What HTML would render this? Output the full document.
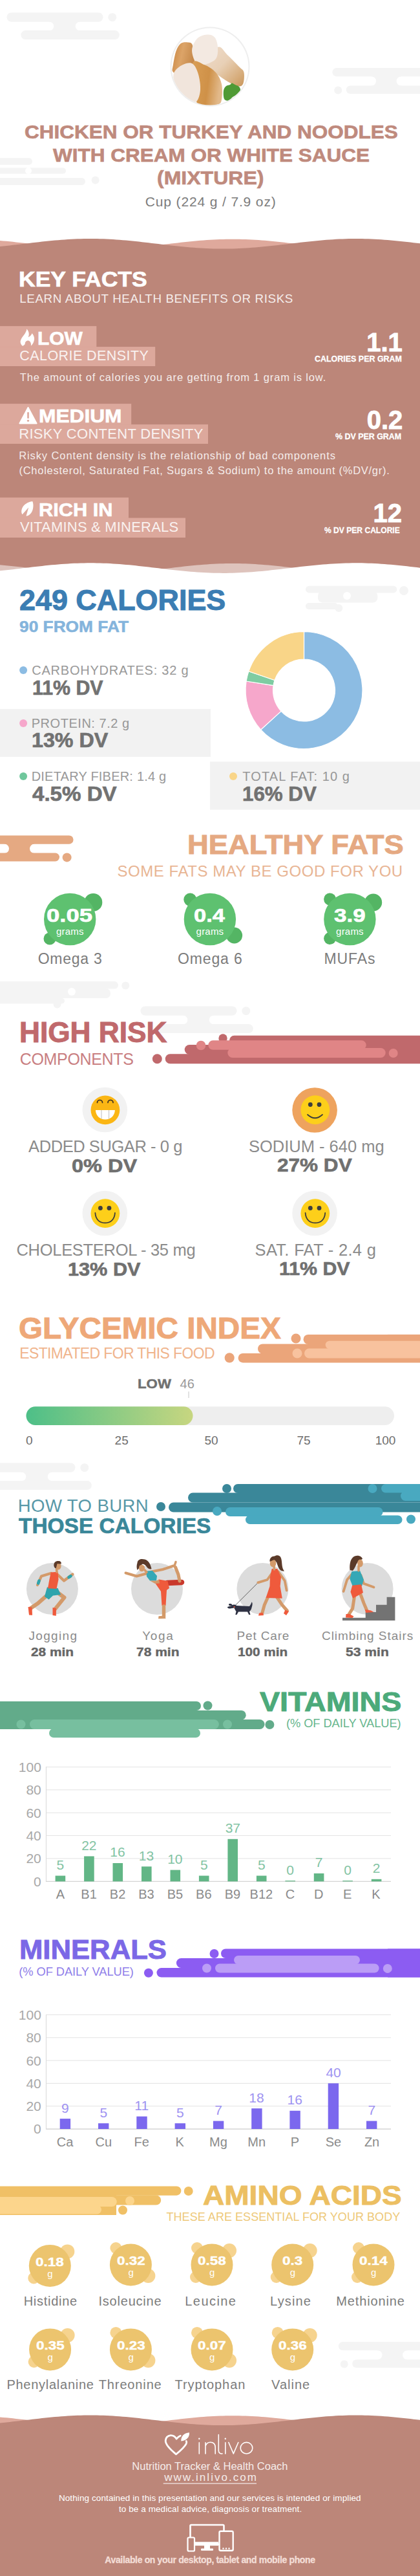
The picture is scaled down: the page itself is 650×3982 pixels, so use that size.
<!DOCTYPE html>
<html><head><meta charset="utf-8"><style>
html,body{margin:0;padding:0;background:#fff;}
#pg{position:relative;width:650px;height:3982px;overflow:hidden;background:#fff;font-family:"Liberation Sans",sans-serif;}
.t{position:absolute;white-space:nowrap;}
svg.bg{position:absolute;left:0;top:0;}
</style></head><body><div id="pg">
<svg class="bg" width="650" height="3982" viewBox="0 0 650 3982" xmlns="http://www.w3.org/2000/svg">
<rect x="76.0" y="26.0" width="48.0" height="28.0" rx="0" fill="#f4f4f4" />
<rect x="-40.0" y="33.8" width="123.3" height="13.3" rx="6.65" fill="#fff" />
<rect x="116.7" y="33.8" width="120.0" height="13.3" rx="6.65" fill="#fff" />
<rect x="10.5" y="19.5" width="149.0" height="14.3" rx="7.1" fill="#f4f4f4" />
<circle cx="173.8" cy="26.7" r="6.5" fill="#f4f4f4" />
<rect x="32.4" y="47.1" width="152.4" height="14.0" rx="7" fill="#f4f4f4" />
<rect x="575.0" y="112.0" width="46.0" height="26.0" rx="0" fill="#f4f4f4" />
<rect x="500.0" y="118.2" width="82.0" height="14.3" rx="7.1" fill="#fff" />
<rect x="613.6" y="118.2" width="100.0" height="14.3" rx="7.1" fill="#fff" />
<rect x="514.3" y="105.0" width="200.0" height="13.2" rx="6.6" fill="#f4f4f4" />
<rect x="535.7" y="132.5" width="200.0" height="12.5" rx="6.25" fill="#f4f4f4" />
<circle cx="523.2" cy="139.6" r="6.0" fill="#f4f4f4" />
<rect x="-20.0" y="244.3" width="70.0" height="10.5" rx="5.2" fill="#f4f4f4" />
<rect x="-20.0" y="259.5" width="122.0" height="9.0" rx="4.5" fill="#f4f4f4" />
<circle cx="44.0" cy="264.0" r="5.0" fill="#fff" />
<rect x="-20.0" y="275.0" width="152.0" height="11.0" rx="5.5" fill="#f4f4f4" />
<circle cx="147.6" cy="278.6" r="6.0" fill="#f4f4f4" />
<defs><clipPath id="chk"><circle cx="325" cy="103" r="59.5"/></clipPath>
<linearGradient id="gk1" x1="0" y1="0" x2="1" y2="0.3"><stop offset="0" stop-color="#c9853f"/><stop offset="0.5" stop-color="#dca468"/><stop offset="1" stop-color="#c68a4c"/></linearGradient>
<linearGradient id="gk2" x1="0" y1="0" x2="1" y2="1"><stop offset="0" stop-color="#efdccb"/><stop offset="0.45" stop-color="#e8d0b6"/><stop offset="0.8" stop-color="#d7ad7c"/><stop offset="1" stop-color="#c9965c"/></linearGradient>
<linearGradient id="gk3" x1="0" y1="0" x2="1" y2="0.2"><stop offset="0" stop-color="#d99e55"/><stop offset="0.6" stop-color="#cf9148"/><stop offset="1" stop-color="#e2b98a"/></linearGradient>
</defs>
<circle cx="325.0" cy="103.0" r="61.5" fill="#eeeeee" />
<circle cx="325.0" cy="103.0" r="59.5" fill="#ffffff" />
<g clip-path="url(#chk)">
<path d="M268.0,100.0 C268.9,94.8 270.5,84.5 272.5,79.0 C274.5,73.5 277.0,69.2 280.0,67.0 C283.0,64.8 287.5,65.0 290.5,65.5 C293.5,66.0 296.2,64.8 298.0,70.0 C299.8,75.2 302.0,92.0 301.0,97.0 C300.0,102.0 296.5,97.5 292.0,100.0 C287.5,102.5 278.2,110.3 274.0,112.0 C269.8,113.7 268.0,112.0 267.0,110.0 C266.0,108.0 267.1,105.2 268.0,100.0 Z" fill="url(#gk1)" />
<path d="M316.0,100.0 C317.5,94.0 331.0,75.5 337.0,73.0 C343.0,70.5 346.5,80.0 352.0,85.0 C357.5,90.0 365.8,98.5 370.0,103.0 C374.2,107.5 376.5,107.5 377.5,112.0 C378.5,116.5 377.8,126.5 376.0,130.0 C374.2,133.5 371.5,134.0 367.0,133.0 C362.5,132.0 355.5,128.0 349.0,124.0 C342.5,120.0 333.5,113.0 328.0,109.0 C322.5,105.0 314.5,106.0 316.0,100.0 Z" fill="url(#gk2)" />
<path d="M298.0,72.0 C299.5,67.5 303.0,61.1 307.0,58.0 C311.0,54.9 317.8,53.5 322.0,53.5 C326.2,53.5 330.0,54.8 332.5,58.0 C335.0,61.2 336.8,67.5 337.0,73.0 C337.2,78.5 337.5,86.5 334.0,91.0 C330.5,95.5 321.0,99.0 316.0,100.0 C311.0,101.0 307.0,99.5 304.0,97.0 C301.0,94.5 299.0,89.2 298.0,85.0 C297.0,80.8 296.5,76.5 298.0,72.0 Z" fill="#f3e9e1" />
<path d="M298.0,98.5 C300.0,89.0 310.0,97.8 316.0,100.0 C322.0,102.2 329.5,107.0 334.0,112.0 C338.5,117.0 341.5,123.0 343.0,130.0 C344.5,137.0 344.0,148.8 343.0,154.0 C342.0,159.2 341.5,160.0 337.0,161.5 C332.5,163.0 321.5,163.8 316.0,163.0 C310.5,162.2 307.0,167.8 304.0,157.0 C301.0,146.2 296.0,108.0 298.0,98.5 Z" fill="url(#gk3)" />
<path d="M269.5,112.0 C271.8,107.0 278.2,102.2 283.0,100.0 C287.8,97.8 294.0,96.0 298.0,98.5 C302.0,101.0 305.0,108.2 307.0,115.0 C309.0,121.8 310.5,132.0 310.0,139.0 C309.5,146.0 307.5,153.5 304.0,157.0 C300.5,160.5 294.0,161.0 289.0,160.0 C284.0,159.0 277.2,156.0 274.0,151.0 C270.8,146.0 270.2,136.5 269.5,130.0 C268.8,123.5 267.2,117.0 269.5,112.0 Z" fill="#f1e5dc" />
<path d="M346.0,140.0 C346.5,136.7 348.3,134.5 350.0,133.0 C351.7,131.5 354.5,131.8 356.0,131.0 C357.5,130.2 357.7,128.5 359.0,128.5 C360.3,128.5 362.2,130.1 364.0,131.0 C365.8,131.9 368.7,132.5 370.0,134.0 C371.3,135.5 372.5,138.0 372.0,140.0 C371.5,142.0 369.0,144.3 367.0,146.0 C365.0,147.7 362.2,148.4 360.0,150.0 C357.8,151.6 356.2,155.0 354.0,155.5 C351.8,156.0 348.3,155.6 347.0,153.0 C345.7,150.4 345.5,143.3 346.0,140.0 Z" fill="#4f9a35" />
</g>
<path d="M0,371.95 L5,372.39 L10,372.85 L15,373.34 L20,373.86 L25,374.40 L30,374.95 L35,375.52 L40,376.11 L45,376.70 L50,377.29 L55,377.89 L60,378.48 L65,379.07 L70,379.65 L75,380.21 L80,380.76 L85,381.30 L90,381.81 L95,382.29 L100,382.75 L105,383.17 L110,383.56 L115,383.92 L120,384.24 L125,384.52 L130,384.76 L135,384.96 L140,385.11 L145,385.22 L150,385.28 L155,385.30 L160,385.27 L165,385.20 L170,385.08 L175,384.92 L180,384.71 L185,384.47 L190,384.18 L195,383.85 L200,383.49 L205,383.09 L210,382.66 L215,382.19 L220,381.71 L225,381.19 L230,380.66 L235,380.10 L240,379.53 L245,378.95 L250,378.36 L255,377.77 L260,377.17 L265,376.58 L270,375.99 L275,375.41 L280,374.84 L285,374.29 L290,373.76 L295,373.24 L300,372.76 L305,372.30 L310,371.87 L315,371.47 L320,371.11 L325,370.79 L330,370.51 L335,370.26 L340,370.06 L345,369.90 L350,369.79 L355,369.72 L360,369.70 L365,369.72 L370,369.79 L375,369.90 L380,370.06 L385,370.26 L390,370.51 L395,370.79 L400,371.11 L405,371.47 L410,371.87 L415,372.30 L420,372.76 L425,373.24 L430,373.76 L435,374.29 L440,374.84 L445,375.41 L450,375.99 L455,376.58 L460,377.17 L465,377.77 L470,378.36 L475,378.95 L480,379.53 L485,380.10 L490,380.66 L495,381.19 L500,381.71 L505,382.19 L510,382.66 L515,383.09 L520,383.49 L525,383.85 L530,384.18 L535,384.47 L540,384.71 L545,384.92 L550,385.08 L555,385.20 L560,385.27 L565,385.30 L570,385.28 L575,385.22 L580,385.11 L585,384.96 L590,384.76 L595,384.52 L600,384.24 L605,383.92 L610,383.56 L615,383.17 L620,382.75 L625,382.29 L630,381.81 L635,381.30 L640,380.76 L645,380.21 L650,379.65 L650,900 L0,900 Z" fill="#dfa99c" />
<path d="M0,381.01 L5,380.49 L10,379.96 L15,379.40 L20,378.83 L25,378.25 L30,377.66 L35,377.07 L40,376.47 L45,375.88 L50,375.29 L55,374.71 L60,374.14 L65,373.59 L70,373.06 L75,372.54 L80,372.06 L85,371.60 L90,371.17 L95,370.77 L100,370.41 L105,370.09 L110,369.81 L115,369.56 L120,369.36 L125,369.20 L130,369.09 L135,369.02 L140,369.00 L145,369.02 L150,369.09 L155,369.20 L160,369.36 L165,369.56 L170,369.81 L175,370.09 L180,370.41 L185,370.77 L190,371.17 L195,371.60 L200,372.06 L205,372.54 L210,373.06 L215,373.59 L220,374.14 L225,374.71 L230,375.29 L235,375.88 L240,376.47 L245,377.07 L250,377.66 L255,378.25 L260,378.83 L265,379.40 L270,379.96 L275,380.49 L280,381.01 L285,381.49 L290,381.96 L295,382.39 L300,382.79 L305,383.15 L310,383.48 L315,383.77 L320,384.01 L325,384.22 L330,384.38 L335,384.50 L340,384.57 L345,384.60 L350,384.58 L355,384.52 L360,384.41 L365,384.26 L370,384.06 L375,383.82 L380,383.54 L385,383.22 L390,382.86 L395,382.47 L400,382.05 L405,381.59 L410,381.11 L415,380.60 L420,380.06 L425,379.51 L430,378.95 L435,378.37 L440,377.78 L445,377.19 L450,376.59 L455,376.00 L460,375.41 L465,374.82 L470,374.25 L475,373.70 L480,373.16 L485,372.64 L490,372.15 L495,371.69 L500,371.25 L505,370.85 L510,370.48 L515,370.15 L520,369.86 L525,369.61 L530,369.40 L535,369.23 L540,369.11 L545,369.03 L550,369.00 L555,369.01 L560,369.07 L565,369.18 L570,369.33 L575,369.52 L580,369.75 L585,370.03 L590,370.35 L595,370.70 L600,371.09 L605,371.51 L610,371.96 L615,372.44 L620,372.95 L625,373.48 L630,374.03 L635,374.59 L640,375.17 L645,375.76 L650,376.35 L650,900 L0,900 Z" fill="#bc8679" />
<path d="M0,873.25 L5,873.69 L10,874.15 L15,874.64 L20,875.16 L25,875.70 L30,876.25 L35,876.82 L40,877.41 L45,878.00 L50,878.59 L55,879.19 L60,879.78 L65,880.37 L70,880.95 L75,881.51 L80,882.06 L85,882.60 L90,883.11 L95,883.59 L100,884.05 L105,884.47 L110,884.86 L115,885.22 L120,885.54 L125,885.82 L130,886.06 L135,886.26 L140,886.41 L145,886.52 L150,886.58 L155,886.60 L160,886.57 L165,886.50 L170,886.38 L175,886.22 L180,886.01 L185,885.77 L190,885.48 L195,885.15 L200,884.79 L205,884.39 L210,883.96 L215,883.49 L220,883.01 L225,882.49 L230,881.96 L235,881.40 L240,880.83 L245,880.25 L250,879.66 L255,879.07 L260,878.47 L265,877.88 L270,877.29 L275,876.71 L280,876.14 L285,875.59 L290,875.06 L295,874.54 L300,874.06 L305,873.60 L310,873.17 L315,872.77 L320,872.41 L325,872.09 L330,871.81 L335,871.56 L340,871.36 L345,871.20 L350,871.09 L355,871.02 L360,871.00 L365,871.02 L370,871.09 L375,871.20 L380,871.36 L385,871.56 L390,871.81 L395,872.09 L400,872.41 L405,872.77 L410,873.17 L415,873.60 L420,874.06 L425,874.54 L430,875.06 L435,875.59 L440,876.14 L445,876.71 L450,877.29 L455,877.88 L460,878.47 L465,879.07 L470,879.66 L475,880.25 L480,880.83 L485,881.40 L490,881.96 L495,882.49 L500,883.01 L505,883.49 L510,883.96 L515,884.39 L520,884.79 L525,885.15 L530,885.48 L535,885.77 L540,886.01 L545,886.22 L550,886.38 L555,886.50 L560,886.57 L565,886.60 L570,886.58 L575,886.52 L580,886.41 L585,886.26 L590,886.06 L595,885.82 L600,885.54 L605,885.22 L610,884.86 L615,884.47 L620,884.05 L625,883.59 L630,883.11 L635,882.60 L640,882.06 L645,881.51 L650,880.95 L650,1000 L0,1000 Z" fill="rgba(255,255,255,0.5)" />
<path d="M0,882.31 L5,881.79 L10,881.26 L15,880.70 L20,880.13 L25,879.55 L30,878.96 L35,878.37 L40,877.77 L45,877.18 L50,876.59 L55,876.01 L60,875.44 L65,874.89 L70,874.36 L75,873.84 L80,873.36 L85,872.90 L90,872.47 L95,872.07 L100,871.71 L105,871.39 L110,871.11 L115,870.86 L120,870.66 L125,870.50 L130,870.39 L135,870.32 L140,870.30 L145,870.32 L150,870.39 L155,870.50 L160,870.66 L165,870.86 L170,871.11 L175,871.39 L180,871.71 L185,872.07 L190,872.47 L195,872.90 L200,873.36 L205,873.84 L210,874.36 L215,874.89 L220,875.44 L225,876.01 L230,876.59 L235,877.18 L240,877.77 L245,878.37 L250,878.96 L255,879.55 L260,880.13 L265,880.70 L270,881.26 L275,881.79 L280,882.31 L285,882.79 L290,883.26 L295,883.69 L300,884.09 L305,884.45 L310,884.78 L315,885.07 L320,885.31 L325,885.52 L330,885.68 L335,885.80 L340,885.87 L345,885.90 L350,885.88 L355,885.82 L360,885.71 L365,885.56 L370,885.36 L375,885.12 L380,884.84 L385,884.52 L390,884.16 L395,883.77 L400,883.35 L405,882.89 L410,882.41 L415,881.90 L420,881.36 L425,880.81 L430,880.25 L435,879.67 L440,879.08 L445,878.49 L450,877.89 L455,877.30 L460,876.71 L465,876.12 L470,875.55 L475,875.00 L480,874.46 L485,873.94 L490,873.45 L495,872.99 L500,872.55 L505,872.15 L510,871.78 L515,871.45 L520,871.16 L525,870.91 L530,870.70 L535,870.53 L540,870.41 L545,870.33 L550,870.30 L555,870.31 L560,870.37 L565,870.48 L570,870.63 L575,870.82 L580,871.05 L585,871.33 L590,871.65 L595,872.00 L600,872.39 L605,872.81 L610,873.26 L615,873.74 L620,874.25 L625,874.78 L630,875.33 L635,875.89 L640,876.47 L645,877.06 L650,877.65 L650,1000 L0,1000 Z" fill="#ffffff" />
<rect x="0.0" y="504.1" width="149.3" height="32.5" rx="0" fill="#dca89c" />
<rect x="0.0" y="536.1" width="240.2" height="29.9" rx="0" fill="#dca89c" />
<path d="M41.4,508.5 C44.8,512 45.8,517.5 43.6,521.3 C46.3,520.3 48.6,518 49.5,515.3 C52.8,518.5 53.8,523.5 52.6,527 C51.7,530.5 49.8,533 47.9,534.4 C48.5,531 47,527.2 43.8,526.6 C41.2,526.2 38.8,528.5 38.8,531.2 C38.8,532.5 36.5,534 34.9,534.8 C31.5,531.5 31,528 32.1,525.9 C33.5,520.5 40.5,516 41.4,508.5 Z" fill="#fff" />
<rect x="0.0" y="624.1" width="203.2" height="32.5" rx="0" fill="#dca89c" />
<rect x="0.0" y="656.1" width="322.0" height="29.9" rx="0" fill="#dca89c" />
<path d="M43.5,630 L56.6,654.5 L30.4,654.5 Z" fill="#fff" stroke="#fff" stroke-width="2" stroke-linejoin="round"/>
<rect x="42.2" y="637.0" width="2.6" height="10.0" rx="1.2" fill="#dca89c" />
<circle cx="43.5" cy="650.3" r="1.6" fill="#dca89c" />
<rect x="0.0" y="769.1" width="199.0" height="32.0" rx="0" fill="#dca89c" />
<rect x="0.0" y="800.6" width="287.0" height="30.4" rx="0" fill="#dca89c" />
<path d="M50.3,774.9 C52.5,780 51.5,788 48.5,792.5 C46.5,795.5 43.5,797.5 40.5,797.8 L44.2,784.5 L34.5,795.2 C32.5,792 32.8,787 36,782.5 C39.5,778 45,775.5 50.3,774.9 Z" fill="#fff" />
<rect x="472.9" y="905.7" width="141.4" height="10.7" rx="5.3" fill="#f4f4f4" />
<circle cx="625.0" cy="913.0" r="7.0" fill="#f4f4f4" />
<rect x="492.0" y="914.0" width="92.3" height="17.4" rx="7" fill="#f4f4f4" />
<circle cx="537.0" cy="921.0" r="6.0" fill="#fff" />
<rect x="472.9" y="932.0" width="50.0" height="10.0" rx="5" fill="#f4f4f4" />
<circle cx="524.3" cy="940.0" r="6.0" fill="#f4f4f4" />
<rect x="0.0" y="1096.0" width="326.0" height="74.0" rx="0" fill="#f2f2f2" />
<rect x="325.0" y="1177.4" width="325.0" height="74.3" rx="0" fill="#f2f2f2" />
<path d="M470.50,976.50 A90.5,90.5 0 1 1 403.60,1127.95 L435.02,1099.32 A48,48 0 1 0 470.50,1019.00 Z" fill="#8cbce3" stroke="#fff" stroke-width="1.2" stroke-linejoin="round"/>
<path d="M403.60,1127.95 A90.5,90.5 0 0 1 381.09,1053.01 L423.08,1059.58 A48,48 0 0 0 435.02,1099.32 Z" fill="#f6a7cb" stroke="#fff" stroke-width="1.2" stroke-linejoin="round"/>
<path d="M381.09,1053.01 A90.5,90.5 0 0 1 384.86,1037.75 L425.08,1051.49 A48,48 0 0 0 423.08,1059.58 Z" fill="#7fcca2" stroke="#fff" stroke-width="1.2" stroke-linejoin="round"/>
<path d="M384.86,1037.75 A90.5,90.5 0 0 1 470.50,976.50 L470.50,1019.00 A48,48 0 0 0 425.08,1051.49 Z" fill="#f9d588" stroke="#fff" stroke-width="1.2" stroke-linejoin="round"/>
<circle cx="36.1" cy="1036.0" r="6.0" fill="#8cbce3" />
<circle cx="36.1" cy="1117.9" r="6.0" fill="#f6a7cb" />
<circle cx="36.1" cy="1200.1" r="6.0" fill="#6fc79c" />
<circle cx="361.0" cy="1200.1" r="6.0" fill="#f9d588" />
<rect x="7.0" y="1298.0" width="46.0" height="27.0" rx="0" fill="#e5a982" />
<rect x="-30.0" y="1304.6" width="44.0" height="14.4" rx="7.2" fill="#fff" />
<rect x="46.0" y="1304.6" width="100.0" height="14.4" rx="7.2" fill="#fff" />
<rect x="-20.0" y="1291.4" width="133.6" height="13.4" rx="6.7" fill="#e5a982" />
<rect x="-20.0" y="1318.6" width="112.0" height="12.8" rx="6.4" fill="#e5a982" />
<circle cx="103.6" cy="1325.4" r="7.0" fill="#e5a982" />
<circle cx="144.3" cy="1394.9" r="14.0" fill="#54b564" />
<circle cx="77.0" cy="1451.0" r="9.5" fill="#54b564" />
<circle cx="108.2" cy="1421.0" r="40.2" fill="#5ec170" />
<circle cx="294.3" cy="1390.6" r="10.0" fill="#54b564" />
<circle cx="362.6" cy="1446.0" r="12.5" fill="#54b564" />
<circle cx="324.9" cy="1421.0" r="40.2" fill="#5ec170" />
<circle cx="510.6" cy="1390.0" r="9.5" fill="#54b564" />
<circle cx="577.7" cy="1395.0" r="13.5" fill="#54b564" />
<circle cx="510.6" cy="1450.6" r="9.5" fill="#54b564" />
<circle cx="541.4" cy="1421.0" r="40.2" fill="#5ec170" />
<rect x="-20.0" y="1517.0" width="203.0" height="11.6" rx="5.8" fill="#f4f4f4" />
<circle cx="194.3" cy="1523.5" r="6.0" fill="#f4f4f4" />
<rect x="-20.0" y="1528.0" width="191.0" height="15.0" rx="7" fill="#f4f4f4" />
<circle cx="111.0" cy="1533.0" r="6.0" fill="#fff" />
<rect x="-20.0" y="1543.0" width="120.0" height="8.4" rx="4.2" fill="#f4f4f4" />
<circle cx="88.6" cy="1552.6" r="6.0" fill="#f4f4f4" />
<rect x="283.0" y="1562.0" width="48.0" height="28.0" rx="0" fill="#f4f4f4" />
<rect x="167.0" y="1569.8" width="123.3" height="13.3" rx="6.65" fill="#fff" />
<rect x="323.7" y="1569.8" width="120.0" height="13.3" rx="6.65" fill="#fff" />
<rect x="217.5" y="1555.5" width="149.0" height="14.3" rx="7.1" fill="#f4f4f4" />
<circle cx="380.8" cy="1562.7" r="6.5" fill="#f4f4f4" />
<rect x="239.4" y="1583.1" width="152.4" height="14.0" rx="7" fill="#f4f4f4" />
<circle cx="243.3" cy="1636.8" r="7.5" fill="#c0696c" />
<rect x="255.7" y="1629.3" width="420.0" height="15.0" rx="7.5" fill="#c0696c" />
<rect x="285.7" y="1615.0" width="420.0" height="15.0" rx="7.5" fill="#c0696c" />
<circle cx="345.0" cy="1605.0" r="6.7" fill="#c0696c" />
<rect x="355.0" y="1600.7" width="320.0" height="15.0" rx="7.5" fill="#c0696c" />
<circle cx="311.0" cy="1616.0" r="7.3" fill="#e08586" />
<rect x="322.3" y="1608.3" width="244.4" height="14.5" rx="7.2" fill="#e08586" />
<rect x="352.3" y="1620.0" width="244.4" height="15.0" rx="7.5" fill="#e08586" />
<circle cx="608.7" cy="1628.0" r="7.0" fill="#e08586" />
<circle cx="162.3" cy="1715.5" r="34.8" fill="#f2f2f2" />
<circle cx="162.9" cy="1715.9" r="22.4" fill="#fbb614" />
<path d="M150.5,1704.5 a4,4 0 0 1 8,0 M167,1704.5 a4,4 0 0 1 8,0" fill="none" stroke="#3d3020" stroke-width="1.7" stroke-linecap="round"/>
<path d="M147.9,1716 L177.9,1716 C177.5,1725 171,1730.5 162.9,1730.5 C154.8,1730.5 148.3,1725 147.9,1716 Z" fill="#fff"/>
<path d="M157,1716 L157,1729.5 M168.6,1716 L168.6,1729.5" stroke="#bdbdbd" stroke-width="1"/>
<circle cx="487.1" cy="1716.0" r="34.8" fill="#eea35e" />
<circle cx="487.8" cy="1715.6" r="22.4" fill="#fdcf1a" />
<circle cx="480.3" cy="1707.5" r="3.4" fill="#3d3d3d" />
<circle cx="494.0" cy="1707.5" r="3.4" fill="#3d3d3d" />
<path d="M476,1723 Q487.5,1733.5 499,1723" fill="none" stroke="#3d3d3d" stroke-width="1.8" stroke-linecap="round"/>
<circle cx="162.3" cy="1875.5" r="34.8" fill="#f2f2f2" />
<circle cx="162.9" cy="1875.6" r="22.4" fill="#fdcf1a" />
<circle cx="155.4" cy="1867.5" r="3.4" fill="#3d3d3d" />
<circle cx="168.9" cy="1867.5" r="3.4" fill="#3d3d3d" />
<path d="M147.4,1875 C148,1886 155,1890.4 162.6,1890.4 C170.2,1890.4 177.3,1886 177.9,1875" fill="none" stroke="#3d3d3d" stroke-width="1.8" stroke-linecap="round"/>
<circle cx="487.1" cy="1875.5" r="34.8" fill="#f2f2f2" />
<circle cx="487.8" cy="1875.6" r="22.4" fill="#fdcf1a" />
<circle cx="480.3" cy="1867.5" r="3.4" fill="#3d3d3d" />
<circle cx="494.0" cy="1867.5" r="3.4" fill="#3d3d3d" />
<path d="M472.6,1875 C473.2,1886 480.2,1890.4 487.9,1890.4 C495.6,1890.4 502.6,1886 503.2,1875" fill="none" stroke="#3d3d3d" stroke-width="1.8" stroke-linecap="round"/>
<circle cx="355.2" cy="2098.8" r="7.6" fill="#eba57a" />
<rect x="368.6" y="2091.9" width="320.0" height="14.5" rx="7.2" fill="#eba57a" />
<rect x="399.0" y="2077.4" width="320.0" height="15.0" rx="7.5" fill="#eba57a" />
<circle cx="458.0" cy="2069.0" r="7.5" fill="#eba57a" />
<rect x="469.5" y="2062.9" width="220.0" height="15.0" rx="7.5" fill="#eba57a" />
<rect x="600.0" y="2062.9" width="60.0" height="38.1" rx="0" fill="#eba57a" />
<circle cx="460.0" cy="2092.0" r="7.5" fill="#f8c29e" />
<rect x="471.0" y="2084.5" width="300.0" height="14.9" rx="7.4" fill="#f8c29e" />
<rect x="503.7" y="2072.8" width="300.0" height="12.5" rx="6.2" fill="#f8c29e" />
<rect x="291.4" y="2151.0" width="1.2" height="10.0" rx="0" fill="#cfcfcf" />
<defs><linearGradient id="gig" x1="0" y1="0" x2="1" y2="0"><stop offset="0" stop-color="#4dbf88"/><stop offset="1" stop-color="#c7d680"/></linearGradient></defs>
<rect x="40.5" y="2174.3" width="569.5" height="28.6" rx="14.3" fill="#eeeeee" />
<rect x="40.5" y="2174.3" width="258.0" height="28.6" rx="14.3" fill="url(#gig)" />
<rect x="33.0" y="2268.0" width="48.0" height="28.0" rx="0" fill="#f4f4f4" />
<rect x="-83.0" y="2275.8" width="123.3" height="13.3" rx="6.65" fill="#fff" />
<rect x="73.7" y="2275.8" width="120.0" height="13.3" rx="6.65" fill="#fff" />
<rect x="-32.5" y="2261.5" width="149.0" height="14.3" rx="7.1" fill="#f4f4f4" />
<circle cx="130.8" cy="2268.7" r="6.5" fill="#f4f4f4" />
<rect x="-10.6" y="2289.1" width="152.4" height="14.0" rx="7" fill="#f4f4f4" />
<circle cx="249.0" cy="2329.0" r="7.0" fill="#3a8799" />
<rect x="261.0" y="2322.5" width="420.0" height="15.0" rx="7.5" fill="#3a8799" />
<rect x="291.0" y="2307.5" width="420.0" height="15.0" rx="7.5" fill="#3a8799" />
<circle cx="351.0" cy="2301.0" r="7.0" fill="#3a8799" />
<rect x="361.0" y="2294.0" width="320.0" height="14.0" rx="7" fill="#3a8799" />
<circle cx="336.0" cy="2336.0" r="7.0" fill="#49a9c0" />
<rect x="349.0" y="2330.0" width="243.5" height="14.0" rx="7" fill="#49a9c0" />
<rect x="380.0" y="2342.5" width="242.5" height="13.5" rx="6.75" fill="#49a9c0" />
<circle cx="636.0" cy="2348.5" r="7.0" fill="#49a9c0" />
<circle cx="576.5" cy="2301.0" r="7.0" fill="#49a9c0" />
<rect x="590.0" y="2294.0" width="100.0" height="13.5" rx="6.75" fill="#49a9c0" />
<rect x="620.0" y="2305.0" width="100.0" height="15.0" rx="7.5" fill="#49a9c0" />
<circle cx="80.9" cy="2456.0" r="40.0" fill="#dcdcdc" />
<circle cx="243.0" cy="2456.0" r="40.0" fill="#dcdcdc" />
<circle cx="406.4" cy="2456.0" r="40.0" fill="#dcdcdc" />
<circle cx="568.6" cy="2456.0" r="40.0" fill="#dcdcdc" />
<rect x="-20.0" y="2630.0" width="331.0" height="14.0" rx="7" fill="#62ab8a" />
<circle cx="321.5" cy="2636.5" r="7.0" fill="#62ab8a" />
<rect x="-20.0" y="2644.0" width="400.7" height="14.5" rx="7.2" fill="#62ab8a" />
<rect x="-20.0" y="2658.0" width="429.5" height="15.0" rx="7.5" fill="#62ab8a" />
<rect x="-20.0" y="2630.0" width="300.0" height="43.0" rx="0" fill="#62ab8a" />
<circle cx="417.4" cy="2666.0" r="7.0" fill="#62ab8a" />
<circle cx="32.5" cy="2665.5" r="7.0" fill="#77bf9f" />
<rect x="46.0" y="2658.0" width="292.8" height="15.0" rx="7.5" fill="#77bf9f" />
<circle cx="352.0" cy="2665.5" r="7.0" fill="#77bf9f" />
<rect x="76.0" y="2672.0" width="234.0" height="14.0" rx="7" fill="#77bf9f" />
<rect x="71.4" y="2730.9" width="533.6" height="1.0" rx="0" fill="#e3e3e3" />
<rect x="71.4" y="2766.3" width="533.6" height="1.0" rx="0" fill="#e3e3e3" />
<rect x="71.4" y="2801.7" width="533.6" height="1.0" rx="0" fill="#e3e3e3" />
<rect x="71.4" y="2837.0" width="533.6" height="1.0" rx="0" fill="#e3e3e3" />
<rect x="71.4" y="2872.4" width="533.6" height="1.0" rx="0" fill="#e3e3e3" />
<rect x="71.4" y="2907.8" width="533.6" height="1.0" rx="0" fill="#e3e3e3" />
<rect x="70.9" y="2730.9" width="1.0" height="177.4" rx="0" fill="#d9d9d9" />
<rect x="70.9" y="2907.8" width="534.1" height="1.2" rx="0" fill="#d5d5d5" />
<rect x="85.6" y="2899.5" width="15.6" height="8.8" rx="0" fill="#62b686" />
<rect x="130.1" y="2869.4" width="15.6" height="38.9" rx="0" fill="#62b686" />
<rect x="174.5" y="2880.0" width="15.6" height="28.3" rx="0" fill="#62b686" />
<rect x="219.0" y="2885.3" width="15.6" height="23.0" rx="0" fill="#62b686" />
<rect x="263.5" y="2890.6" width="15.6" height="17.7" rx="0" fill="#62b686" />
<rect x="307.9" y="2899.5" width="15.6" height="8.8" rx="0" fill="#62b686" />
<rect x="352.4" y="2842.8" width="15.6" height="65.5" rx="0" fill="#62b686" />
<rect x="396.9" y="2899.5" width="15.6" height="8.8" rx="0" fill="#62b686" />
<rect x="441.4" y="2907.1" width="15.6" height="1.2" rx="0" fill="#62b686" />
<rect x="485.8" y="2895.9" width="15.6" height="12.4" rx="0" fill="#62b686" />
<rect x="530.3" y="2907.1" width="15.6" height="1.2" rx="0" fill="#62b686" />
<rect x="574.8" y="2904.8" width="15.6" height="3.5" rx="0" fill="#62b686" />
<circle cx="229.9" cy="3049.8" r="7.0" fill="#8c5cf2" />
<rect x="242.5" y="3042.0" width="420.0" height="14.6" rx="7.3" fill="#8c5cf2" />
<rect x="272.9" y="3027.0" width="420.0" height="15.0" rx="7.5" fill="#8c5cf2" />
<circle cx="331.5" cy="3020.0" r="7.0" fill="#8c5cf2" />
<rect x="342.0" y="3012.5" width="320.0" height="14.5" rx="7.2" fill="#8c5cf2" />
<rect x="600.0" y="3012.5" width="60.0" height="44.0" rx="0" fill="#8c5cf2" />
<circle cx="320.0" cy="3042.5" r="7.0" fill="#bb9df6" />
<rect x="333.0" y="3035.5" width="253.6" height="14.0" rx="7" fill="#bb9df6" />
<rect x="362.0" y="3023.0" width="195.0" height="13.5" rx="6.75" fill="#bb9df6" />
<circle cx="599.8" cy="3042.9" r="7.0" fill="#bb9df6" />
<rect x="71.4" y="3114.0" width="533.6" height="1.0" rx="0" fill="#e3e3e3" />
<rect x="71.4" y="3149.3" width="533.6" height="1.0" rx="0" fill="#e3e3e3" />
<rect x="71.4" y="3184.6" width="533.6" height="1.0" rx="0" fill="#e3e3e3" />
<rect x="71.4" y="3219.9" width="533.6" height="1.0" rx="0" fill="#e3e3e3" />
<rect x="71.4" y="3255.2" width="533.6" height="1.0" rx="0" fill="#e3e3e3" />
<rect x="71.4" y="3290.5" width="533.6" height="1.0" rx="0" fill="#e3e3e3" />
<rect x="70.9" y="3114.0" width="1.0" height="177.0" rx="0" fill="#d9d9d9" />
<rect x="70.9" y="3290.5" width="534.1" height="1.2" rx="0" fill="#d5d5d5" />
<rect x="92.7" y="3275.1" width="16.4" height="15.9" rx="0" fill="#7b68ee" />
<rect x="152.0" y="3282.2" width="16.4" height="8.8" rx="0" fill="#7b68ee" />
<rect x="211.3" y="3271.6" width="16.4" height="19.4" rx="0" fill="#7b68ee" />
<rect x="270.6" y="3282.2" width="16.4" height="8.8" rx="0" fill="#7b68ee" />
<rect x="329.9" y="3278.6" width="16.4" height="12.4" rx="0" fill="#7b68ee" />
<rect x="389.2" y="3259.2" width="16.4" height="31.8" rx="0" fill="#7b68ee" />
<rect x="448.4" y="3262.8" width="16.4" height="28.2" rx="0" fill="#7b68ee" />
<rect x="507.7" y="3220.4" width="16.4" height="70.6" rx="0" fill="#7b68ee" />
<rect x="567.0" y="3278.6" width="16.4" height="12.4" rx="0" fill="#7b68ee" />
<rect x="-20.0" y="3379.4" width="300.4" height="14.3" rx="7.1" fill="#f0c066" />
<circle cx="291.7" cy="3387.0" r="7.0" fill="#f0c066" />
<rect x="-20.0" y="3393.5" width="269.2" height="15.0" rx="7.5" fill="#f0c066" />
<rect x="-20.0" y="3380.0" width="200.0" height="44.0" rx="0" fill="#f0c066" />
<rect x="-20.0" y="3409.0" width="195.5" height="15.0" rx="7.5" fill="#f0c066" />
<circle cx="190.0" cy="3416.5" r="7.0" fill="#f0c066" />
<rect x="-20.0" y="3396.0" width="200.7" height="15.0" rx="7.5" fill="#fcd58c" />
<circle cx="201.0" cy="3402.0" r="7.0" fill="#fcd58c" />
<rect x="-20.0" y="3409.0" width="177.0" height="13.5" rx="6.75" fill="#fcd58c" />
<circle cx="104.3" cy="3480.4" r="11.0" fill="#f6d38e" />
<circle cx="52.3" cy="3521.4" r="9.0" fill="#f6d38e" />
<circle cx="77.3" cy="3502.4" r="32.5" fill="#ecc46e" />
<circle cx="179.4" cy="3475.0" r="9.0" fill="#f6d38e" />
<circle cx="229.4" cy="3518.0" r="11.0" fill="#f6d38e" />
<circle cx="202.4" cy="3501.0" r="32.5" fill="#ecc46e" />
<circle cx="305.0" cy="3475.0" r="9.0" fill="#f6d38e" />
<circle cx="355.0" cy="3479.0" r="11.0" fill="#f6d38e" />
<circle cx="303.0" cy="3520.0" r="9.0" fill="#f6d38e" />
<circle cx="328.0" cy="3501.0" r="32.5" fill="#ecc46e" />
<circle cx="479.7" cy="3479.0" r="11.0" fill="#f6d38e" />
<circle cx="427.7" cy="3520.0" r="9.0" fill="#f6d38e" />
<circle cx="452.7" cy="3501.0" r="32.5" fill="#ecc46e" />
<circle cx="555.0" cy="3475.0" r="9.0" fill="#f6d38e" />
<circle cx="553.0" cy="3520.0" r="9.0" fill="#f6d38e" />
<circle cx="578.0" cy="3501.0" r="32.5" fill="#ecc46e" />
<circle cx="104.6" cy="3609.9" r="11.0" fill="#f6d38e" />
<circle cx="52.6" cy="3650.9" r="9.0" fill="#f6d38e" />
<circle cx="77.6" cy="3631.9" r="32.5" fill="#ecc46e" />
<circle cx="179.4" cy="3605.9" r="9.0" fill="#f6d38e" />
<circle cx="229.4" cy="3648.9" r="11.0" fill="#f6d38e" />
<circle cx="202.4" cy="3631.9" r="32.5" fill="#ecc46e" />
<circle cx="305.0" cy="3605.9" r="9.0" fill="#f6d38e" />
<circle cx="355.0" cy="3648.9" r="11.0" fill="#f6d38e" />
<circle cx="328.0" cy="3631.9" r="32.5" fill="#ecc46e" />
<circle cx="429.7" cy="3605.9" r="9.0" fill="#f6d38e" />
<circle cx="479.7" cy="3609.9" r="11.0" fill="#f6d38e" />
<circle cx="452.7" cy="3631.9" r="32.5" fill="#ecc46e" />
<rect x="584.5" y="3627.0" width="46.0" height="26.0" rx="0" fill="#f4f4f4" />
<rect x="509.5" y="3633.2" width="82.0" height="14.3" rx="7.1" fill="#fff" />
<rect x="623.1" y="3633.2" width="100.0" height="14.3" rx="7.1" fill="#fff" />
<rect x="523.8" y="3620.0" width="200.0" height="13.2" rx="6.6" fill="#f4f4f4" />
<rect x="545.2" y="3647.5" width="200.0" height="12.5" rx="6.25" fill="#f4f4f4" />
<circle cx="532.7" cy="3654.6" r="6.0" fill="#f4f4f4" />
<path d="M0,3736.45 L5,3736.89 L10,3737.35 L15,3737.84 L20,3738.36 L25,3738.90 L30,3739.45 L35,3740.02 L40,3740.61 L45,3741.20 L50,3741.79 L55,3742.39 L60,3742.98 L65,3743.57 L70,3744.15 L75,3744.71 L80,3745.26 L85,3745.80 L90,3746.31 L95,3746.79 L100,3747.25 L105,3747.67 L110,3748.06 L115,3748.42 L120,3748.74 L125,3749.02 L130,3749.26 L135,3749.46 L140,3749.61 L145,3749.72 L150,3749.78 L155,3749.80 L160,3749.77 L165,3749.70 L170,3749.58 L175,3749.42 L180,3749.21 L185,3748.97 L190,3748.68 L195,3748.35 L200,3747.99 L205,3747.59 L210,3747.16 L215,3746.69 L220,3746.21 L225,3745.69 L230,3745.16 L235,3744.60 L240,3744.03 L245,3743.45 L250,3742.86 L255,3742.27 L260,3741.67 L265,3741.08 L270,3740.49 L275,3739.91 L280,3739.34 L285,3738.79 L290,3738.26 L295,3737.74 L300,3737.26 L305,3736.80 L310,3736.37 L315,3735.97 L320,3735.61 L325,3735.29 L330,3735.01 L335,3734.76 L340,3734.56 L345,3734.40 L350,3734.29 L355,3734.22 L360,3734.20 L365,3734.22 L370,3734.29 L375,3734.40 L380,3734.56 L385,3734.76 L390,3735.01 L395,3735.29 L400,3735.61 L405,3735.97 L410,3736.37 L415,3736.80 L420,3737.26 L425,3737.74 L430,3738.26 L435,3738.79 L440,3739.34 L445,3739.91 L450,3740.49 L455,3741.08 L460,3741.67 L465,3742.27 L470,3742.86 L475,3743.45 L480,3744.03 L485,3744.60 L490,3745.16 L495,3745.69 L500,3746.21 L505,3746.69 L510,3747.16 L515,3747.59 L520,3747.99 L525,3748.35 L530,3748.68 L535,3748.97 L540,3749.21 L545,3749.42 L550,3749.58 L555,3749.70 L560,3749.77 L565,3749.80 L570,3749.78 L575,3749.72 L580,3749.61 L585,3749.46 L590,3749.26 L595,3749.02 L600,3748.74 L605,3748.42 L610,3748.06 L615,3747.67 L620,3747.25 L625,3746.79 L630,3746.31 L635,3745.80 L640,3745.26 L645,3744.71 L650,3744.15 L650,3990 L0,3990 Z" fill="#dfa99c" />
<path d="M0,3745.51 L5,3744.99 L10,3744.46 L15,3743.90 L20,3743.33 L25,3742.75 L30,3742.16 L35,3741.57 L40,3740.97 L45,3740.38 L50,3739.79 L55,3739.21 L60,3738.64 L65,3738.09 L70,3737.56 L75,3737.04 L80,3736.56 L85,3736.10 L90,3735.67 L95,3735.27 L100,3734.91 L105,3734.59 L110,3734.31 L115,3734.06 L120,3733.86 L125,3733.70 L130,3733.59 L135,3733.52 L140,3733.50 L145,3733.52 L150,3733.59 L155,3733.70 L160,3733.86 L165,3734.06 L170,3734.31 L175,3734.59 L180,3734.91 L185,3735.27 L190,3735.67 L195,3736.10 L200,3736.56 L205,3737.04 L210,3737.56 L215,3738.09 L220,3738.64 L225,3739.21 L230,3739.79 L235,3740.38 L240,3740.97 L245,3741.57 L250,3742.16 L255,3742.75 L260,3743.33 L265,3743.90 L270,3744.46 L275,3744.99 L280,3745.51 L285,3745.99 L290,3746.46 L295,3746.89 L300,3747.29 L305,3747.65 L310,3747.98 L315,3748.27 L320,3748.51 L325,3748.72 L330,3748.88 L335,3749.00 L340,3749.07 L345,3749.10 L350,3749.08 L355,3749.02 L360,3748.91 L365,3748.76 L370,3748.56 L375,3748.32 L380,3748.04 L385,3747.72 L390,3747.36 L395,3746.97 L400,3746.55 L405,3746.09 L410,3745.61 L415,3745.10 L420,3744.56 L425,3744.01 L430,3743.45 L435,3742.87 L440,3742.28 L445,3741.69 L450,3741.09 L455,3740.50 L460,3739.91 L465,3739.32 L470,3738.75 L475,3738.20 L480,3737.66 L485,3737.14 L490,3736.65 L495,3736.19 L500,3735.75 L505,3735.35 L510,3734.98 L515,3734.65 L520,3734.36 L525,3734.11 L530,3733.90 L535,3733.73 L540,3733.61 L545,3733.53 L550,3733.50 L555,3733.51 L560,3733.57 L565,3733.68 L570,3733.83 L575,3734.02 L580,3734.25 L585,3734.53 L590,3734.85 L595,3735.20 L600,3735.59 L605,3736.01 L610,3736.46 L615,3736.94 L620,3737.45 L625,3737.98 L630,3738.53 L635,3739.09 L640,3739.67 L645,3740.26 L650,3740.85 L650,3990 L0,3990 Z" fill="#bc8679" />
<path d="M279.2,3765.2 C276.5,3766.2 274.6,3768 273.2,3770 C271,3766.2 267.5,3764.5 264,3764.6 C259.2,3764.9 256.2,3768.6 256.2,3773 C256.2,3779 263,3786 272.6,3793.8 C280,3787.6 285.8,3782.4 288.2,3777.6 C289,3776 289,3774.5 288.3,3773.4" fill="none" stroke="#fff" stroke-width="2.8" stroke-linecap="round" stroke-linejoin="round"/>
<path d="M280.3,3773.4 C279.8,3766.4 284.8,3760.8 293,3760.3 C293.6,3767 289,3772.8 280.3,3773.4 Z" fill="#fff"/>
<g fill="none" stroke="#fff" stroke-width="1.6" stroke-linecap="round" stroke-linejoin="round"><path d="M308.3,3775.8 L308.3,3792.9 M318,3792.9 L318,3775.8 M318,3781 C319.5,3777 322.5,3775.2 325.5,3775.2 C330.5,3775.2 333.2,3778.5 333.2,3783.5 L333.2,3792.9 M338.3,3763.5 L338.3,3788 C338.3,3791.5 340.5,3793.2 344,3792.9 M348.8,3775.8 L348.8,3792.9 M353.8,3775.5 L361.3,3792.9 L368.8,3775.5"/><ellipse cx="381.5" cy="3784.2" rx="9.3" ry="8.8"/></g>
<circle cx="308.3" cy="3769.8" r="1.2" fill="#fff" />
<circle cx="348.8" cy="3769.8" r="1.2" fill="#fff" />
<rect x="252.7" y="3838.5" width="144.3" height="1.0" rx="0" fill="#fff" />
<rect x="294.5" y="3903" width="52" height="30" rx="1.5" fill="none" stroke="#fff" stroke-width="2.6"/>
<rect x="302.0" y="3929.3" width="36.0" height="5.8" rx="0" fill="#fff" />
<rect x="316.0" y="3935.0" width="9.0" height="5.0" rx="0" fill="#fff" />
<rect x="311.0" y="3939.5" width="19.0" height="3.2" rx="1" fill="#fff" />
<rect x="290.5" y="3922.5" width="10.5" height="21" rx="1.8" fill="#bc8679" stroke="#fff" stroke-width="2.2"/>
<rect x="339.5" y="3912.8" width="21.2" height="30" rx="2" fill="#bc8679" stroke="#fff" stroke-width="2.4"/>
<circle cx="345.5" cy="3939.5" r="1.2" fill="#fff" />
<circle cx="350.0" cy="3939.5" r="1.2" fill="#fff" />
<circle cx="354.5" cy="3939.5" r="1.2" fill="#fff" />
<path d="M78.8,2432.0 L64.0,2436.5 L58.0,2450.0" fill="none" stroke="#d39a6a" stroke-width="4.2" stroke-linecap="round" stroke-linejoin="round"/>
<path d="M60.5,2443.5 L59.2,2447.5" fill="none" stroke="#2ea4ad" stroke-width="4.6" stroke-linecap="round" stroke-linejoin="round"/>
<path d="M71.7,2467.0 L58.6,2478.6 L47.5,2486.0" fill="none" stroke="#d39a6a" stroke-width="6" stroke-linecap="round" stroke-linejoin="round"/>
<path d="M43.5,2484.0 L49.5,2484.5 L50.0,2496.8 L45.0,2496.5 Z" fill="#ef5a3c" />
<path d="M89.5,2462.0 L99.5,2469.5 L85.5,2487.0" fill="none" stroke="#d39a6a" stroke-width="6" stroke-linecap="round" stroke-linejoin="round"/>
<path d="M81.5,2485.0 L87.0,2486.0 L86.8,2497.8 L81.5,2497.0 Z" fill="#ef5a3c" />
<path d="M72.9,2453.5 L89.5,2455.0 L94.0,2465.0 L82.0,2466.5 L75.5,2472.5 L69.0,2468.0 Z" fill="#2ea4ad" />
<path d="M88.3,2433.3 L99.0,2443.5 L112.5,2433.5" fill="none" stroke="#d39a6a" stroke-width="4.2" stroke-linecap="round" stroke-linejoin="round"/>
<path d="M106.5,2438.2 L109.5,2436.3" fill="none" stroke="#2ea4ad" stroke-width="4.6" stroke-linecap="round" stroke-linejoin="round"/>
<path d="M78.8,2430.5 L89.5,2429.8 L90.5,2441.7 L87.5,2456.0 L74.0,2455.2 L76.4,2441.7 Z" fill="#ef5a3c" />
<path d="M87.5,2426.0 L88.0,2430.0" fill="none" stroke="#d39a6a" stroke-width="3.6" stroke-linecap="round" stroke-linejoin="round"/>
<ellipse cx="89.8" cy="2421" rx="4.8" ry="5.6" fill="#d39a6a"/>
<path d="M83.5,2421 C82.5,2414.5 87,2412.3 91.5,2413 C94.5,2413.6 95.3,2416 94.6,2417.5 L88.5,2417.2 C87.8,2419.5 87.5,2422 86.5,2424.5 C85,2424 84,2422.8 83.5,2421 Z" fill="#5b3a29" />
<path d="M212.5,2416 C213,2410 219,2409 224,2410.5 C230,2412 233,2418 234.5,2425 C232,2426.5 229,2425 227,2422 C225,2419 222,2417 220,2418 C218,2420 216,2424 212.5,2427 C211,2423 211.5,2419 212.5,2416 Z" fill="#5b3a29" />
<path d="M228.0,2432.0 L211.5,2436.5 L194.5,2431.5" fill="none" stroke="#d39a6a" stroke-width="4" stroke-linecap="round" stroke-linejoin="round"/>
<path d="M232.0,2430.0 L252.0,2426.0 L268.5,2420.5" fill="none" stroke="#d39a6a" stroke-width="4" stroke-linecap="round" stroke-linejoin="round"/>
<path d="M270.5,2419.0 L272.0,2414.5" fill="none" stroke="#d39a6a" stroke-width="3.5" stroke-linecap="round" stroke-linejoin="round"/>
<path d="M258.5,2447.0 L281.0,2446.0" fill="none" stroke="#c9392c" stroke-width="8.5" stroke-linecap="round" stroke-linejoin="round"/>
<path d="M278.0,2444.0 L276.0,2434.0 L271.5,2422.5" fill="none" stroke="#d39a6a" stroke-width="5" stroke-linecap="round" stroke-linejoin="round"/>
<path d="M240.0,2447.0 L246.0,2441.5 L259.5,2444.0 L262.0,2455.0 L258.0,2458.0 L256.5,2482.0 L250.5,2482.0 L249.0,2460.0 Z" fill="#ef5a3c" />
<path d="M253.5,2483.0 L253.5,2499.0" fill="none" stroke="#d39a6a" stroke-width="5.5" stroke-linecap="round" stroke-linejoin="round"/>
<path d="M245.5,2498.3 L255.5,2497.5 L256.5,2502.0 L245.0,2502.3 Z" fill="#d39a6a" />
<path d="M226.5,2428.5 L236.0,2428.0 L243.0,2436.0 L242.0,2443.5 L232.0,2443.5 L227.0,2437.0 Z" fill="#35a8b6" />
<path d="M232.0,2443.5 L242.0,2443.5 L246.0,2441.5 L247.0,2447.5 L240.0,2448.0 Z" fill="#d39a6a" />
<ellipse cx="219.5" cy="2424" rx="4.6" ry="5.2" fill="#d39a6a"/>
<path d="M224.0,2427.0 L227.0,2430.5" fill="none" stroke="#d39a6a" stroke-width="3.5" stroke-linecap="round" stroke-linejoin="round"/>
<path d="M397.9,2447.9 L363.6,2482.1" fill="none" stroke="#555" stroke-width="0.9" stroke-linecap="round" stroke-linejoin="round"/>
<path d="M358,2482.5 C360,2480 364,2480 366,2482 L386,2483 C388,2481 389,2478 389.5,2476.5 C391,2477 391,2481 389.5,2485 C389,2488 387.5,2490 386,2491 L387.5,2496 L385.2,2496 L383,2491.5 L369,2491.5 L366.5,2496 L364.3,2496 L365.5,2491 C364,2489 363,2487 362.5,2485.5 L356,2486.5 C353,2486.8 351.5,2485 352,2484 C354,2483 356,2482.8 358,2482.5 Z" fill="#2f3243" />
<path d="M355,2482 C353,2480 354,2478.5 357,2479 C359,2479.5 360,2481 360,2482.5 Z" fill="#2f3243" />
<circle cx="362.5" cy="2484.0" r="1.1" fill="#ef5a3c" />
<path d="M415.0,2468.0 L409.3,2480.7 L405.5,2494.5" fill="none" stroke="#d39a6a" stroke-width="5" stroke-linecap="round" stroke-linejoin="round"/>
<path d="M401.0,2493.5 L406.5,2492.8 L408.0,2497.0 L400.0,2497.5 Z" fill="#ef5a3c" />
<path d="M428.0,2468.0 L436.4,2480.7 L444.5,2490.0" fill="none" stroke="#d39a6a" stroke-width="5" stroke-linecap="round" stroke-linejoin="round"/>
<path d="M441.5,2488.5 L447.0,2491.0 L443.0,2497.0 L439.0,2494.0 Z" fill="#ef5a3c" />
<path d="M423,2410 C424,2404 430,2403 433.5,2406 C436.5,2409.5 436,2417 437,2422 C437.5,2425 439,2427.5 440,2428.5 C435.5,2429.5 432,2426 430.5,2422 L428,2415 Z" fill="#5b3a29" />
<path d="M430.7,2429.3 L440.7,2443.6 L443.6,2458.5" fill="none" stroke="#d39a6a" stroke-width="3.8" stroke-linecap="round" stroke-linejoin="round"/>
<path d="M420.7,2432.0 L413.6,2442.0 L399.3,2446.4" fill="none" stroke="#d39a6a" stroke-width="3.8" stroke-linecap="round" stroke-linejoin="round"/>
<path d="M420.7,2425.0 L429.3,2425.0 L435.0,2437.9 L433.6,2452.1 L436.8,2470.7 L411.5,2469.9 L417.5,2452.1 L417.9,2437.9 Z" fill="#ef5a3c" />
<ellipse cx="422.5" cy="2416.5" rx="4.8" ry="6" fill="#d39a6a"/>
<path d="M424.0,2421.0 L424.5,2426.0" fill="none" stroke="#d39a6a" stroke-width="3.5" stroke-linecap="round" stroke-linejoin="round"/>
<path d="M417.5,2414 C417,2408 421,2405 426,2405.5 C429,2406 430,2409 429,2412 C426,2411 423,2411 420,2413 Z" fill="#5b3a29" />
<path d="M530.0,2505.0 L530.0,2500.7 L565.7,2500.7 L565.7,2492.1 L582.0,2492.1 L582.0,2480.7 L598.6,2480.7 L598.6,2468.7 L611.4,2468.7 L611.4,2505.0 Z" fill="#737373" />
<path d="M548.6,2467.0 L545.7,2486.4 L539.0,2497.0" fill="none" stroke="#d39a6a" stroke-width="5" stroke-linecap="round" stroke-linejoin="round"/>
<path d="M535.5,2495.0 L541.0,2495.0 L547.5,2498.5 L545.5,2501.0 L535.0,2500.5 Z" fill="#ef5a3c" />
<path d="M557.1,2462.1 L562.9,2477.9 L568.0,2490.0" fill="none" stroke="#d39a6a" stroke-width="5" stroke-linecap="round" stroke-linejoin="round"/>
<path d="M565.0,2488.0 L574.0,2489.5 L578.5,2492.0 L566.0,2493.0 Z" fill="#ef5a3c" />
<path d="M541.5,2427 C540.5,2418 542.5,2408 549,2405.5 C555,2403.5 560,2406 561,2410 C559,2411 556,2412 554,2414 C551,2418 549.5,2424 546,2428 Z" fill="#5b3a29" />
<path d="M545.7,2432.1 L537.1,2442.1 L531.6,2460.0" fill="none" stroke="#d39a6a" stroke-width="3.8" stroke-linecap="round" stroke-linejoin="round"/>
<path d="M558.6,2435.0 L562.9,2447.9 L578.5,2453.5" fill="none" stroke="#d39a6a" stroke-width="3.8" stroke-linecap="round" stroke-linejoin="round"/>
<path d="M544.3,2429.3 L557.1,2427.9 L562.9,2442.1 L560.0,2452.1 L545.7,2452.1 L541.4,2440.7 Z" fill="#35a8b6" />
<path d="M545.2,2450.7 L559.0,2449.3 L562.0,2462.1 L546.0,2470.7 L542.5,2460.7 Z" fill="#ef5a3c" />
<ellipse cx="557.5" cy="2416.5" rx="4.3" ry="6" fill="#d39a6a"/>
<path d="M555.0,2421.0 L555.0,2428.0" fill="none" stroke="#d39a6a" stroke-width="3.5" stroke-linecap="round" stroke-linejoin="round"/>
</svg>
<div class="t" style="left:37.6px;top:189.8px;font-size:29px;line-height:29px;font-weight:700;color:#bf8a7d;letter-spacing:0.00px;transform:scaleX(1.0866);transform-origin:0 0;-webkit-text-stroke:0.64px #bf8a7d;">CHICKEN OR TURKEY AND NOODLES</div>
<div class="t" style="left:81.9px;top:225.9px;font-size:29px;line-height:29px;font-weight:700;color:#bf8a7d;letter-spacing:0.00px;transform:scaleX(1.0865);transform-origin:0 0;-webkit-text-stroke:0.64px #bf8a7d;">WITH CREAM OR WHITE SAUCE</div>
<div class="t" style="left:242.5px;top:261.0px;font-size:29px;line-height:29px;font-weight:700;color:#bf8a7d;letter-spacing:0.00px;transform:scaleX(1.1045);transform-origin:0 0;-webkit-text-stroke:0.64px #bf8a7d;">(MIXTURE)</div>
<div class="t" style="left:224.8px;top:300.8px;font-size:21px;line-height:21px;font-weight:400;color:#666;letter-spacing:0.86px;opacity:0.85;">Cup (224 g / 7.9 oz)</div>
<div class="t" style="left:28.7px;top:415.4px;font-size:33px;line-height:33px;font-weight:700;color:#fff;letter-spacing:0.00px;transform:scaleX(1.0763);transform-origin:0 0;-webkit-text-stroke:0.73px #fff;">KEY FACTS</div>
<div class="t" style="left:30.2px;top:453.0px;font-size:18.8px;line-height:18.8px;font-weight:400;color:#fff;letter-spacing:0.63px;opacity:0.85;">LEARN ABOUT HEALTH BENEFITS OR RISKS</div>
<div class="t" style="left:58.3px;top:508.5px;font-size:29px;line-height:29px;font-weight:700;color:#fff;letter-spacing:0.00px;transform:scaleX(1.0330);transform-origin:0 0;-webkit-text-stroke:0.64px #fff;">LOW</div>
<div class="t" style="left:30.3px;top:540.1px;font-size:21.5px;line-height:21.5px;font-weight:400;color:#fff;letter-spacing:0.43px;opacity:0.85;">CALORIE DENSITY</div>
<div class="t" style="left:30.7px;top:574.8px;font-size:16.5px;line-height:16.5px;font-weight:400;color:#fff;letter-spacing:0.86px;opacity:0.85;">The amount of calories you are getting from 1 gram is low.</div>
<div class="t" style="left:567.2px;top:509.4px;font-size:40px;line-height:40px;font-weight:700;color:#fff;letter-spacing:0.00px;-webkit-text-stroke:0.88px #fff;">1.1</div>
<div class="t" style="left:486.5px;top:548.5px;font-size:12px;line-height:12px;font-weight:700;color:#fff;letter-spacing:0.00px;transform:scaleX(1.0381);transform-origin:0 0;-webkit-text-stroke:0.26px #fff;">CALORIES PER GRAM</div>
<div class="t" style="left:59.7px;top:628.5px;font-size:29px;line-height:29px;font-weight:700;color:#fff;letter-spacing:0.00px;transform:scaleX(1.0925);transform-origin:0 0;-webkit-text-stroke:0.64px #fff;">MEDIUM</div>
<div class="t" style="left:29.2px;top:659.5px;font-size:22px;line-height:22px;font-weight:400;color:#fff;letter-spacing:0.31px;opacity:0.85;">RISKY CONTENT DENSITY</div>
<div class="t" style="left:29.2px;top:695.9px;font-size:16.5px;line-height:16.5px;font-weight:400;color:#fff;letter-spacing:0.90px;opacity:0.85;">Risky Content density is the relationship of bad components</div>
<div class="t" style="left:29.5px;top:719.0px;font-size:16.5px;line-height:16.5px;font-weight:400;color:#fff;letter-spacing:0.73px;opacity:0.85;">(Cholesterol, Saturated Fat, Sugars &amp; Sodium) to the amount (%DV/gr).</div>
<div class="t" style="left:567.7px;top:628.8px;font-size:40px;line-height:40px;font-weight:700;color:#fff;letter-spacing:0.00px;-webkit-text-stroke:0.88px #fff;">0.2</div>
<div class="t" style="left:518.9px;top:668.8px;font-size:12px;line-height:12px;font-weight:700;color:#fff;letter-spacing:0.00px;transform:scaleX(1.0353);transform-origin:0 0;-webkit-text-stroke:0.26px #fff;">% DV PER GRAM</div>
<div class="t" style="left:59.8px;top:773.5px;font-size:29px;line-height:29px;font-weight:700;color:#fff;letter-spacing:0.00px;transform:scaleX(1.0603);transform-origin:0 0;-webkit-text-stroke:0.64px #fff;">RICH  IN</div>
<div class="t" style="left:30.9px;top:804.4px;font-size:22px;line-height:22px;font-weight:400;color:#fff;letter-spacing:0.20px;opacity:0.85;">VITAMINS &amp; MINERALS</div>
<div class="t" style="left:577.4px;top:773.0px;font-size:40px;line-height:40px;font-weight:700;color:#fff;letter-spacing:0.00px;-webkit-text-stroke:0.88px #fff;">12</div>
<div class="t" style="left:501.6px;top:813.8px;font-size:12px;line-height:12px;font-weight:700;color:#fff;letter-spacing:0.00px;transform:scaleX(1.0064);transform-origin:0 0;-webkit-text-stroke:0.26px #fff;">% DV PER CALORIE</div>
<div class="t" style="left:30.3px;top:905.7px;font-size:44px;line-height:44px;font-weight:700;color:#3b7db3;letter-spacing:0.00px;transform:scaleX(1.0201);transform-origin:0 0;-webkit-text-stroke:0.97px #3b7db3;">249 CALORIES</div>
<div class="t" style="left:30.2px;top:957.6px;font-size:23px;line-height:23px;font-weight:700;color:#84b4dc;letter-spacing:0.00px;transform:scaleX(1.1435);transform-origin:0 0;-webkit-text-stroke:0.51px #84b4dc;">90 FROM FAT</div>
<div class="t" style="left:49.3px;top:1026.0px;font-size:20px;line-height:20px;font-weight:400;color:#888;letter-spacing:0.76px;opacity:0.85;">CARBOHYDRATES: 32 g</div>
<div class="t" style="left:49.6px;top:1049.0px;font-size:30.7px;line-height:30.7px;font-weight:700;color:#727272;letter-spacing:0.00px;transform:scaleX(0.9878);transform-origin:0 0;-webkit-text-stroke:0.68px #727272;">11% DV</div>
<div class="t" style="left:48.7px;top:1107.7px;font-size:20px;line-height:20px;font-weight:400;color:#888;letter-spacing:0.54px;opacity:0.85;">PROTEIN: 7.2 g</div>
<div class="t" style="left:49.1px;top:1130.4px;font-size:30.7px;line-height:30.7px;font-weight:700;color:#727272;letter-spacing:0.00px;transform:scaleX(1.0496);transform-origin:0 0;-webkit-text-stroke:0.68px #727272;">13% DV</div>
<div class="t" style="left:48.7px;top:1190.0px;font-size:20px;line-height:20px;font-weight:400;color:#888;letter-spacing:0.21px;opacity:0.85;">DIETARY FIBER: 1.4 g</div>
<div class="t" style="left:50.0px;top:1212.7px;font-size:30.7px;line-height:30.7px;font-weight:700;color:#727272;letter-spacing:0.00px;transform:scaleX(1.0789);transform-origin:0 0;-webkit-text-stroke:0.68px #727272;">4.5% DV</div>
<div class="t" style="left:375.3px;top:1190.0px;font-size:20px;line-height:20px;font-weight:400;color:#888;letter-spacing:1.09px;opacity:0.85;">TOTAL FAT: 10 g</div>
<div class="t" style="left:374.6px;top:1212.7px;font-size:30.7px;line-height:30.7px;font-weight:700;color:#727272;letter-spacing:0.00px;transform:scaleX(1.0197);transform-origin:0 0;-webkit-text-stroke:0.68px #727272;">16% DV</div>
<div class="t" style="left:290.0px;top:1284.3px;font-size:43px;line-height:43px;font-weight:700;color:#e5a982;letter-spacing:0.00px;transform:scaleX(1.0535);transform-origin:0 0;-webkit-text-stroke:0.95px #e5a982;">HEALTHY FATS</div>
<div class="t" style="left:181.5px;top:1335.2px;font-size:24px;line-height:24px;font-weight:400;color:#e5a982;letter-spacing:0.55px;opacity:0.85;">SOME FATS MAY BE GOOD FOR YOU</div>
<div class="t" style="left:72.4px;top:1399.9px;font-size:29.5px;line-height:29.5px;font-weight:700;color:#fff;letter-spacing:0.00px;transform:scaleX(1.2369);transform-origin:0 0;-webkit-text-stroke:0.65px #fff;">0.05</div>
<div class="t" style="left:86.9px;top:1432.3px;font-size:15px;line-height:15px;font-weight:400;color:#fff;letter-spacing:0.21px;">grams</div>
<div class="t" style="left:58.7px;top:1471.4px;font-size:23px;line-height:23px;font-weight:400;color:#666;letter-spacing:0.74px;opacity:0.85;">Omega 3</div>
<div class="t" style="left:300.4px;top:1399.9px;font-size:29.5px;line-height:29.5px;font-weight:700;color:#fff;letter-spacing:0.00px;transform:scaleX(1.1669);transform-origin:0 0;-webkit-text-stroke:0.65px #fff;">0.4</div>
<div class="t" style="left:303.6px;top:1432.3px;font-size:15px;line-height:15px;font-weight:400;color:#fff;letter-spacing:0.21px;">grams</div>
<div class="t" style="left:274.9px;top:1471.4px;font-size:23px;line-height:23px;font-weight:400;color:#666;letter-spacing:0.90px;opacity:0.85;">Omega 6</div>
<div class="t" style="left:517.3px;top:1399.9px;font-size:29.5px;line-height:29.5px;font-weight:700;color:#fff;letter-spacing:0.00px;transform:scaleX(1.1852);transform-origin:0 0;-webkit-text-stroke:0.65px #fff;">3.9</div>
<div class="t" style="left:520.1px;top:1432.3px;font-size:15px;line-height:15px;font-weight:400;color:#fff;letter-spacing:0.21px;">grams</div>
<div class="t" style="left:501.4px;top:1471.4px;font-size:23px;line-height:23px;font-weight:400;color:#666;letter-spacing:0.90px;opacity:0.85;">MUFAs</div>
<div class="t" style="left:30.0px;top:1573.8px;font-size:44px;line-height:44px;font-weight:700;color:#c0696c;letter-spacing:0.00px;transform:scaleX(1.0046);transform-origin:0 0;-webkit-text-stroke:0.97px #c0696c;">HIGH RISK</div>
<div class="t" style="left:30.8px;top:1625.0px;font-size:25px;line-height:25px;font-weight:400;color:#c0696c;letter-spacing:-0.34px;opacity:0.85;">COMPONENTS</div>
<div class="t" style="left:44.1px;top:1759.5px;font-size:25.5px;line-height:25.5px;font-weight:400;color:#777;letter-spacing:-0.43px;opacity:0.85;">ADDED SUGAR - 0 g</div>
<div class="t" style="left:111.1px;top:1788.0px;font-size:29px;line-height:29px;font-weight:700;color:#707070;letter-spacing:0.00px;transform:scaleX(1.1205);transform-origin:0 0;-webkit-text-stroke:0.64px #707070;">0% DV</div>
<div class="t" style="left:384.9px;top:1759.6px;font-size:25.5px;line-height:25.5px;font-weight:400;color:#777;letter-spacing:-0.00px;opacity:0.85;">SODIUM - 640 mg</div>
<div class="t" style="left:428.9px;top:1787.2px;font-size:29px;line-height:29px;font-weight:700;color:#707070;letter-spacing:0.00px;transform:scaleX(1.0873);transform-origin:0 0;-webkit-text-stroke:0.64px #707070;">27% DV</div>
<div class="t" style="left:25.5px;top:1920.2px;font-size:25.5px;line-height:25.5px;font-weight:400;color:#777;letter-spacing:-0.30px;opacity:0.85;">CHOLESTEROL - 35 mg</div>
<div class="t" style="left:105.0px;top:1948.0px;font-size:29px;line-height:29px;font-weight:700;color:#707070;letter-spacing:0.00px;transform:scaleX(1.0575);transform-origin:0 0;-webkit-text-stroke:0.64px #707070;">13% DV</div>
<div class="t" style="left:394.6px;top:1919.8px;font-size:25.5px;line-height:25.5px;font-weight:400;color:#777;letter-spacing:0.30px;opacity:0.85;">SAT. FAT - 2.4 g</div>
<div class="t" style="left:432.2px;top:1946.6px;font-size:29px;line-height:29px;font-weight:700;color:#707070;letter-spacing:0.00px;transform:scaleX(1.0447);transform-origin:0 0;-webkit-text-stroke:0.64px #707070;">11% DV</div>
<div class="t" style="left:29.0px;top:2030.4px;font-size:46px;line-height:46px;font-weight:700;color:#eea878;letter-spacing:0.00px;transform:scaleX(1.0354);transform-origin:0 0;-webkit-text-stroke:1.01px #eea878;">GLYCEMIC INDEX</div>
<div class="t" style="left:30.2px;top:2080.6px;font-size:23px;line-height:23px;font-weight:400;color:#eea878;letter-spacing:-0.62px;opacity:0.85;">ESTIMATED FOR THIS FOOD</div>
<div class="t" style="left:212.5px;top:2128.5px;font-size:20px;line-height:20px;font-weight:700;color:#707070;letter-spacing:0.00px;transform:scaleX(1.1123);transform-origin:0 0;-webkit-text-stroke:0.44px #707070;">LOW</div>
<div class="t" style="left:278.6px;top:2128.5px;font-size:20px;line-height:20px;font-weight:400;color:#888;letter-spacing:0.00px;opacity:0.85;">46</div>
<div class="t" style="left:39.9px;top:2216.8px;font-size:19px;line-height:19px;font-weight:400;color:#555;letter-spacing:0.00px;opacity:0.85;">0</div>
<div class="t" style="left:177.6px;top:2216.8px;font-size:19px;line-height:19px;font-weight:400;color:#555;letter-spacing:0.00px;opacity:0.85;">25</div>
<div class="t" style="left:316.4px;top:2216.8px;font-size:19px;line-height:19px;font-weight:400;color:#555;letter-spacing:0.00px;opacity:0.85;">50</div>
<div class="t" style="left:459.4px;top:2216.8px;font-size:19px;line-height:19px;font-weight:400;color:#555;letter-spacing:0.00px;opacity:0.85;">75</div>
<div class="t" style="left:580.7px;top:2216.8px;font-size:19px;line-height:19px;font-weight:400;color:#555;letter-spacing:0.00px;opacity:0.85;">100</div>
<div class="t" style="left:27.8px;top:2314.4px;font-size:27.5px;line-height:27.5px;font-weight:400;color:#3a8799;letter-spacing:0.42px;opacity:0.85;">HOW TO BURN</div>
<div class="t" style="left:28.8px;top:2343.2px;font-size:32.4px;line-height:32.4px;font-weight:700;color:#3a8799;letter-spacing:0.00px;transform:scaleX(1.0325);transform-origin:0 0;-webkit-text-stroke:0.71px #3a8799;">THOSE CALORIES</div>
<div class="t" style="left:44.5px;top:2519.2px;font-size:19px;line-height:19px;font-weight:400;color:#777;letter-spacing:1.32px;opacity:0.85;">Jogging</div>
<div class="t" style="left:48.3px;top:2545.2px;font-size:18px;line-height:18px;font-weight:700;color:#666;letter-spacing:0.00px;transform:scaleX(1.1582);transform-origin:0 0;-webkit-text-stroke:0.4px #666;">28 min</div>
<div class="t" style="left:220.3px;top:2519.2px;font-size:19px;line-height:19px;font-weight:400;color:#777;letter-spacing:1.61px;opacity:0.85;">Yoga</div>
<div class="t" style="left:211.0px;top:2545.2px;font-size:18px;line-height:18px;font-weight:700;color:#666;letter-spacing:0.00px;transform:scaleX(1.1655);transform-origin:0 0;-webkit-text-stroke:0.4px #666;">78 min</div>
<div class="t" style="left:366.5px;top:2519.2px;font-size:19px;line-height:19px;font-weight:400;color:#777;letter-spacing:0.85px;opacity:0.85;">Pet Care</div>
<div class="t" style="left:368.4px;top:2545.2px;font-size:18px;line-height:18px;font-weight:700;color:#666;letter-spacing:0.00px;transform:scaleX(1.1512);transform-origin:0 0;-webkit-text-stroke:0.4px #666;">100 min</div>
<div class="t" style="left:498.0px;top:2519.2px;font-size:19px;line-height:19px;font-weight:400;color:#777;letter-spacing:0.96px;opacity:0.85;">Climbing Stairs</div>
<div class="t" style="left:535.0px;top:2545.2px;font-size:18px;line-height:18px;font-weight:700;color:#666;letter-spacing:0.00px;transform:scaleX(1.1707);transform-origin:0 0;-webkit-text-stroke:0.4px #666;">53 min</div>
<div class="t" style="left:401.9px;top:2609.0px;font-size:43.3px;line-height:43.3px;font-weight:700;color:#4caa7a;letter-spacing:0.00px;transform:scaleX(1.0764);transform-origin:0 0;-webkit-text-stroke:0.95px #4caa7a;">VITAMINS</div>
<div class="t" style="left:442.9px;top:2655.0px;font-size:18.3px;line-height:18.3px;font-weight:400;color:#4caa7a;letter-spacing:-0.06px;opacity:0.85;">(% OF DAILY VALUE)</div>
<div class="t" style="left:28.8px;top:2720.8px;font-size:21px;line-height:21px;font-weight:400;color:#9a9a9a;letter-spacing:0.00px;opacity:0.85;">100</div>
<div class="t" style="left:40.4px;top:2756.2px;font-size:21px;line-height:21px;font-weight:400;color:#9a9a9a;letter-spacing:0.00px;opacity:0.85;">80</div>
<div class="t" style="left:40.4px;top:2791.6px;font-size:21px;line-height:21px;font-weight:400;color:#9a9a9a;letter-spacing:0.00px;opacity:0.85;">60</div>
<div class="t" style="left:40.4px;top:2827.0px;font-size:21px;line-height:21px;font-weight:400;color:#9a9a9a;letter-spacing:0.00px;opacity:0.85;">40</div>
<div class="t" style="left:40.4px;top:2862.3px;font-size:21px;line-height:21px;font-weight:400;color:#9a9a9a;letter-spacing:0.00px;opacity:0.85;">20</div>
<div class="t" style="left:52.1px;top:2897.7px;font-size:21px;line-height:21px;font-weight:400;color:#9a9a9a;letter-spacing:0.00px;opacity:0.85;">0</div>
<div class="t" style="left:87.6px;top:2871.9px;font-size:21px;line-height:21px;font-weight:400;color:#6db993;letter-spacing:0.00px;opacity:0.85;">5</div>
<div class="t" style="left:86.8px;top:2918.4px;font-size:20px;line-height:20px;font-weight:400;color:#777;letter-spacing:0.00px;opacity:0.85;">A</div>
<div class="t" style="left:126.2px;top:2841.8px;font-size:21px;line-height:21px;font-weight:400;color:#6db993;letter-spacing:0.00px;opacity:0.85;">22</div>
<div class="t" style="left:125.3px;top:2918.4px;font-size:20px;line-height:20px;font-weight:400;color:#777;letter-spacing:0.00px;opacity:0.85;">B1</div>
<div class="t" style="left:170.3px;top:2852.4px;font-size:21px;line-height:21px;font-weight:400;color:#6db993;letter-spacing:0.00px;opacity:0.85;">16</div>
<div class="t" style="left:169.8px;top:2918.4px;font-size:20px;line-height:20px;font-weight:400;color:#777;letter-spacing:0.00px;opacity:0.85;">B2</div>
<div class="t" style="left:214.8px;top:2857.7px;font-size:21px;line-height:21px;font-weight:400;color:#6db993;letter-spacing:0.00px;opacity:0.85;">13</div>
<div class="t" style="left:214.2px;top:2918.4px;font-size:20px;line-height:20px;font-weight:400;color:#777;letter-spacing:0.00px;opacity:0.85;">B3</div>
<div class="t" style="left:259.2px;top:2863.0px;font-size:21px;line-height:21px;font-weight:400;color:#6db993;letter-spacing:0.00px;opacity:0.85;">10</div>
<div class="t" style="left:258.7px;top:2918.4px;font-size:20px;line-height:20px;font-weight:400;color:#777;letter-spacing:0.00px;opacity:0.85;">B5</div>
<div class="t" style="left:309.9px;top:2871.9px;font-size:21px;line-height:21px;font-weight:400;color:#6db993;letter-spacing:0.00px;opacity:0.85;">5</div>
<div class="t" style="left:303.1px;top:2918.4px;font-size:20px;line-height:20px;font-weight:400;color:#777;letter-spacing:0.00px;opacity:0.85;">B6</div>
<div class="t" style="left:348.7px;top:2815.3px;font-size:21px;line-height:21px;font-weight:400;color:#6db993;letter-spacing:0.00px;opacity:0.85;">37</div>
<div class="t" style="left:347.7px;top:2918.4px;font-size:20px;line-height:20px;font-weight:400;color:#777;letter-spacing:0.00px;opacity:0.85;">B9</div>
<div class="t" style="left:398.9px;top:2871.9px;font-size:21px;line-height:21px;font-weight:400;color:#6db993;letter-spacing:0.00px;opacity:0.85;">5</div>
<div class="t" style="left:386.6px;top:2918.4px;font-size:20px;line-height:20px;font-weight:400;color:#777;letter-spacing:0.00px;opacity:0.85;">B12</div>
<div class="t" style="left:443.3px;top:2879.5px;font-size:21px;line-height:21px;font-weight:400;color:#6db993;letter-spacing:0.00px;opacity:0.85;">0</div>
<div class="t" style="left:441.8px;top:2918.4px;font-size:20px;line-height:20px;font-weight:400;color:#777;letter-spacing:0.00px;opacity:0.85;">C</div>
<div class="t" style="left:487.8px;top:2868.3px;font-size:21px;line-height:21px;font-weight:400;color:#6db993;letter-spacing:0.00px;opacity:0.85;">7</div>
<div class="t" style="left:486.1px;top:2918.4px;font-size:20px;line-height:20px;font-weight:400;color:#777;letter-spacing:0.00px;opacity:0.85;">D</div>
<div class="t" style="left:532.2px;top:2879.5px;font-size:21px;line-height:21px;font-weight:400;color:#6db993;letter-spacing:0.00px;opacity:0.85;">0</div>
<div class="t" style="left:531.0px;top:2918.4px;font-size:20px;line-height:20px;font-weight:400;color:#777;letter-spacing:0.00px;opacity:0.85;">E</div>
<div class="t" style="left:576.7px;top:2877.2px;font-size:21px;line-height:21px;font-weight:400;color:#6db993;letter-spacing:0.00px;opacity:0.85;">2</div>
<div class="t" style="left:575.2px;top:2918.4px;font-size:20px;line-height:20px;font-weight:400;color:#777;letter-spacing:0.00px;opacity:0.85;">K</div>
<div class="t" style="left:30.1px;top:2992.2px;font-size:43.3px;line-height:43.3px;font-weight:700;color:#7b68e6;letter-spacing:0.00px;transform:scaleX(1.0081);transform-origin:0 0;-webkit-text-stroke:0.95px #7b68e6;">MINERALS</div>
<div class="t" style="left:29.3px;top:3038.5px;font-size:18.3px;line-height:18.3px;font-weight:400;color:#7b68e6;letter-spacing:-0.07px;opacity:0.85;">(% OF DAILY VALUE)</div>
<div class="t" style="left:28.8px;top:3103.9px;font-size:21px;line-height:21px;font-weight:400;color:#9a9a9a;letter-spacing:0.00px;opacity:0.85;">100</div>
<div class="t" style="left:40.4px;top:3139.2px;font-size:21px;line-height:21px;font-weight:400;color:#9a9a9a;letter-spacing:0.00px;opacity:0.85;">80</div>
<div class="t" style="left:40.4px;top:3174.5px;font-size:21px;line-height:21px;font-weight:400;color:#9a9a9a;letter-spacing:0.00px;opacity:0.85;">60</div>
<div class="t" style="left:40.4px;top:3209.8px;font-size:21px;line-height:21px;font-weight:400;color:#9a9a9a;letter-spacing:0.00px;opacity:0.85;">40</div>
<div class="t" style="left:40.4px;top:3245.1px;font-size:21px;line-height:21px;font-weight:400;color:#9a9a9a;letter-spacing:0.00px;opacity:0.85;">20</div>
<div class="t" style="left:52.1px;top:3280.4px;font-size:21px;line-height:21px;font-weight:400;color:#9a9a9a;letter-spacing:0.00px;opacity:0.85;">0</div>
<div class="t" style="left:95.1px;top:3247.5px;font-size:21px;line-height:21px;font-weight:400;color:#8e80ef;letter-spacing:0.00px;opacity:0.85;">9</div>
<div class="t" style="left:87.7px;top:3300.7px;font-size:20px;line-height:20px;font-weight:400;color:#777;letter-spacing:0.00px;opacity:0.85;">Ca</div>
<div class="t" style="left:154.4px;top:3254.6px;font-size:21px;line-height:21px;font-weight:400;color:#8e80ef;letter-spacing:0.00px;opacity:0.85;">5</div>
<div class="t" style="left:147.6px;top:3300.7px;font-size:20px;line-height:20px;font-weight:400;color:#777;letter-spacing:0.00px;opacity:0.85;">Cu</div>
<div class="t" style="left:208.3px;top:3244.0px;font-size:21px;line-height:21px;font-weight:400;color:#8e80ef;letter-spacing:0.00px;opacity:0.85;">11</div>
<div class="t" style="left:207.5px;top:3300.7px;font-size:20px;line-height:20px;font-weight:400;color:#777;letter-spacing:0.00px;opacity:0.85;">Fe</div>
<div class="t" style="left:272.9px;top:3254.6px;font-size:21px;line-height:21px;font-weight:400;color:#8e80ef;letter-spacing:0.00px;opacity:0.85;">5</div>
<div class="t" style="left:271.4px;top:3300.7px;font-size:20px;line-height:20px;font-weight:400;color:#777;letter-spacing:0.00px;opacity:0.85;">K</div>
<div class="t" style="left:332.2px;top:3251.1px;font-size:21px;line-height:21px;font-weight:400;color:#8e80ef;letter-spacing:0.00px;opacity:0.85;">7</div>
<div class="t" style="left:324.0px;top:3300.7px;font-size:20px;line-height:20px;font-weight:400;color:#777;letter-spacing:0.00px;opacity:0.85;">Mg</div>
<div class="t" style="left:385.3px;top:3231.7px;font-size:21px;line-height:21px;font-weight:400;color:#8e80ef;letter-spacing:0.00px;opacity:0.85;">18</div>
<div class="t" style="left:383.3px;top:3300.7px;font-size:20px;line-height:20px;font-weight:400;color:#777;letter-spacing:0.00px;opacity:0.85;">Mn</div>
<div class="t" style="left:444.6px;top:3235.2px;font-size:21px;line-height:21px;font-weight:400;color:#8e80ef;letter-spacing:0.00px;opacity:0.85;">16</div>
<div class="t" style="left:449.7px;top:3300.7px;font-size:20px;line-height:20px;font-weight:400;color:#777;letter-spacing:0.00px;opacity:0.85;">P</div>
<div class="t" style="left:504.4px;top:3192.8px;font-size:21px;line-height:21px;font-weight:400;color:#8e80ef;letter-spacing:0.00px;opacity:0.85;">40</div>
<div class="t" style="left:503.7px;top:3300.7px;font-size:20px;line-height:20px;font-weight:400;color:#777;letter-spacing:0.00px;opacity:0.85;">Se</div>
<div class="t" style="left:569.4px;top:3251.1px;font-size:21px;line-height:21px;font-weight:400;color:#8e80ef;letter-spacing:0.00px;opacity:0.85;">7</div>
<div class="t" style="left:563.9px;top:3300.7px;font-size:20px;line-height:20px;font-weight:400;color:#777;letter-spacing:0.00px;opacity:0.85;">Zn</div>
<div class="t" style="left:313.8px;top:3372.2px;font-size:43px;line-height:43px;font-weight:700;color:#ecbf62;letter-spacing:0.00px;transform:scaleX(1.0706);transform-origin:0 0;-webkit-text-stroke:0.95px #ecbf62;">AMINO ACIDS</div>
<div class="t" style="left:257.5px;top:3418.2px;font-size:18px;line-height:18px;font-weight:400;color:#ecbf62;letter-spacing:0.05px;opacity:0.85;">THESE ARE ESSENTIAL FOR YOUR BODY</div>
<div class="t" style="left:55.4px;top:3486.8px;font-size:19px;line-height:19px;font-weight:700;color:#fff;letter-spacing:0.00px;transform:scaleX(1.1800);transform-origin:0 0;-webkit-text-stroke:0.42px #fff;">0.18</div>
<div class="t" style="left:73.3px;top:3506.7px;font-size:15px;line-height:15px;font-weight:400;color:#fff;letter-spacing:0.00px;">g</div>
<div class="t" style="left:36.7px;top:3547.4px;font-size:20px;line-height:20px;font-weight:400;color:#666;letter-spacing:0.72px;opacity:0.85;">Histidine</div>
<div class="t" style="left:180.6px;top:3485.4px;font-size:19px;line-height:19px;font-weight:700;color:#fff;letter-spacing:0.00px;transform:scaleX(1.1800);transform-origin:0 0;-webkit-text-stroke:0.42px #fff;">0.32</div>
<div class="t" style="left:198.4px;top:3505.3px;font-size:15px;line-height:15px;font-weight:400;color:#fff;letter-spacing:0.00px;">g</div>
<div class="t" style="left:152.5px;top:3547.4px;font-size:20px;line-height:20px;font-weight:400;color:#666;letter-spacing:0.78px;opacity:0.85;">Isoleucine</div>
<div class="t" style="left:306.1px;top:3485.4px;font-size:19px;line-height:19px;font-weight:700;color:#fff;letter-spacing:0.00px;transform:scaleX(1.1800);transform-origin:0 0;-webkit-text-stroke:0.42px #fff;">0.58</div>
<div class="t" style="left:324.0px;top:3505.3px;font-size:15px;line-height:15px;font-weight:400;color:#fff;letter-spacing:0.00px;">g</div>
<div class="t" style="left:286.3px;top:3547.4px;font-size:20px;line-height:20px;font-weight:400;color:#666;letter-spacing:1.43px;opacity:0.85;">Leucine</div>
<div class="t" style="left:437.1px;top:3485.4px;font-size:19px;line-height:19px;font-weight:700;color:#fff;letter-spacing:0.00px;transform:scaleX(1.1800);transform-origin:0 0;-webkit-text-stroke:0.42px #fff;">0.3</div>
<div class="t" style="left:448.7px;top:3505.3px;font-size:15px;line-height:15px;font-weight:400;color:#fff;letter-spacing:0.00px;">g</div>
<div class="t" style="left:418.1px;top:3547.4px;font-size:20px;line-height:20px;font-weight:400;color:#666;letter-spacing:1.16px;opacity:0.85;">Lysine</div>
<div class="t" style="left:555.8px;top:3485.4px;font-size:19px;line-height:19px;font-weight:700;color:#fff;letter-spacing:0.00px;transform:scaleX(1.1800);transform-origin:0 0;-webkit-text-stroke:0.42px #fff;">0.14</div>
<div class="t" style="left:574.0px;top:3505.3px;font-size:15px;line-height:15px;font-weight:400;color:#fff;letter-spacing:0.00px;">g</div>
<div class="t" style="left:520.2px;top:3547.4px;font-size:20px;line-height:20px;font-weight:400;color:#666;letter-spacing:0.88px;opacity:0.85;">Methionine</div>
<div class="t" style="left:55.6px;top:3616.3px;font-size:19px;line-height:19px;font-weight:700;color:#fff;letter-spacing:0.00px;transform:scaleX(1.1800);transform-origin:0 0;-webkit-text-stroke:0.42px #fff;">0.35</div>
<div class="t" style="left:73.6px;top:3636.2px;font-size:15px;line-height:15px;font-weight:400;color:#fff;letter-spacing:0.00px;">g</div>
<div class="t" style="left:10.4px;top:3676.0px;font-size:20px;line-height:20px;font-weight:400;color:#666;letter-spacing:0.74px;opacity:0.85;">Phenylalanine</div>
<div class="t" style="left:180.5px;top:3616.3px;font-size:19px;line-height:19px;font-weight:700;color:#fff;letter-spacing:0.00px;transform:scaleX(1.1800);transform-origin:0 0;-webkit-text-stroke:0.42px #fff;">0.23</div>
<div class="t" style="left:198.4px;top:3636.2px;font-size:15px;line-height:15px;font-weight:400;color:#fff;letter-spacing:0.00px;">g</div>
<div class="t" style="left:152.8px;top:3676.0px;font-size:20px;line-height:20px;font-weight:400;color:#666;letter-spacing:0.86px;opacity:0.85;">Threonine</div>
<div class="t" style="left:306.2px;top:3616.3px;font-size:19px;line-height:19px;font-weight:700;color:#fff;letter-spacing:0.00px;transform:scaleX(1.1800);transform-origin:0 0;-webkit-text-stroke:0.42px #fff;">0.07</div>
<div class="t" style="left:324.0px;top:3636.2px;font-size:15px;line-height:15px;font-weight:400;color:#fff;letter-spacing:0.00px;">g</div>
<div class="t" style="left:270.6px;top:3676.0px;font-size:20px;line-height:20px;font-weight:400;color:#666;letter-spacing:0.92px;opacity:0.85;">Tryptophan</div>
<div class="t" style="left:430.8px;top:3616.3px;font-size:19px;line-height:19px;font-weight:700;color:#fff;letter-spacing:0.00px;transform:scaleX(1.1800);transform-origin:0 0;-webkit-text-stroke:0.42px #fff;">0.36</div>
<div class="t" style="left:448.7px;top:3636.2px;font-size:15px;line-height:15px;font-weight:400;color:#fff;letter-spacing:0.00px;">g</div>
<div class="t" style="left:420.1px;top:3676.0px;font-size:20px;line-height:20px;font-weight:400;color:#666;letter-spacing:0.98px;opacity:0.85;">Valine</div>
<div class="t" style="left:204.3px;top:3803.7px;font-size:16.5px;line-height:16.5px;font-weight:400;color:#fff;letter-spacing:0.00px;opacity:0.85;">Nutrition Tracker &amp; Health Coach</div>
<div class="t" style="left:254.2px;top:3820.5px;font-size:17px;line-height:17px;font-weight:400;color:#fff;letter-spacing:2.05px;opacity:0.85;">www.inlivo.com</div>
<div class="t" style="left:90.9px;top:3855.4px;font-size:13.5px;line-height:13.5px;font-weight:400;color:#fff;letter-spacing:0.10px;">Nothing contained in this presentation and our services is intended or implied</div>
<div class="t" style="left:183.9px;top:3871.5px;font-size:13.5px;line-height:13.5px;font-weight:400;color:#fff;letter-spacing:0.09px;">to be a medical advice, diagnosis or treatment.</div>
<div class="t" style="left:162.2px;top:3949.8px;font-size:14px;line-height:14px;font-weight:700;color:#f3ddd6;letter-spacing:-0.34px;-webkit-text-stroke:0.31px #f3ddd6;">Available on your desktop, tablet and mobile phone</div>
</div></body></html>
